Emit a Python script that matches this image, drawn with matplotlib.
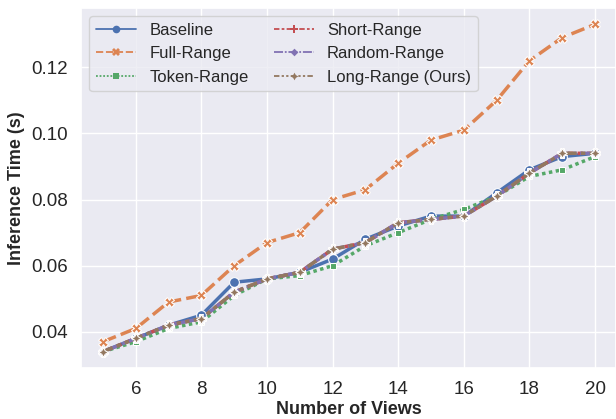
import matplotlib
matplotlib.use("Agg")
import matplotlib.pyplot as plt
import seaborn as sns
import pandas as pd

views = list(range(5, 21))
baseline = [0.034, 0.038, 0.042, 0.045, 0.055, 0.056, 0.058, 0.062, 0.068, 0.072, 0.075, 0.075, 0.082, 0.089, 0.093, 0.094]
full_range = [0.037, 0.041, 0.049, 0.051, 0.060, 0.067, 0.070, 0.080, 0.083, 0.091, 0.098, 0.101, 0.110, 0.122, 0.129, 0.133]
token_range = [0.034, 0.037, 0.041, 0.043, 0.051, 0.056, 0.057, 0.060, 0.066, 0.070, 0.074, 0.077, 0.081, 0.087, 0.089, 0.093]
short_range = [0.034, 0.038, 0.042, 0.044, 0.052, 0.056, 0.058, 0.065, 0.067, 0.073, 0.074, 0.075, 0.081, 0.088, 0.094, 0.094]
random_range = [0.034, 0.038, 0.042, 0.044, 0.052, 0.056, 0.058, 0.065, 0.067, 0.073, 0.074, 0.075, 0.081, 0.088, 0.094, 0.094]
long_range = [0.034, 0.038, 0.042, 0.044, 0.052, 0.056, 0.058, 0.065, 0.067, 0.073, 0.074, 0.075, 0.081, 0.088, 0.094, 0.094]

names = ["Baseline", "Full-Range", "Token-Range", "Short-Range", "Random-Range", "Long-Range (Ours)"]
series = [baseline, full_range, token_range, short_range, random_range, long_range]

rows = []
for name, vals in zip(names, series):
    for v, t in zip(views, vals):
        rows.append({"views": v, "time": t, "method": name})
df = pd.DataFrame(rows)

sns.set_theme(style="darkgrid")
plt.rcParams['font.family'] = ['Liberation Sans', 'DejaVu Sans']

fig = plt.figure(figsize=(6.16, 4.19), dpi=100)
ax = fig.add_axes([81 / 616, 51 / 419, 535 / 616, 360 / 419])

sns.lineplot(data=df, x="views", y="time", hue="method", style="method",
             hue_order=names, style_order=names, markers=True, dashes=True,
             linewidth=2.5, markersize=7, ax=ax)

ax.set_xlim(4.33, 20.64)
ax.set_xticks([6, 8, 10, 12, 14, 16, 18, 20])
ax.set_yticks([0.04, 0.06, 0.08, 0.10, 0.12])
ax.tick_params(labelsize=13.5)
ax.set_xlabel("Number of Views", fontsize=13, fontweight="bold", labelpad=2)
ax.set_ylabel("Inference Time (s)", fontsize=13, fontweight="bold")
leg = ax.legend(ncol=2, loc="upper left", fontsize=12, title=None, handlelength=2.4,
                columnspacing=1.5, borderaxespad=0.5)
# thinner handles in the legend, like the original
for ln in leg.get_lines():
    ln.set_linewidth(1.3)
    ln.set_markersize(5.5)
    ln.set_markeredgewidth(0)

fig.savefig("out.png", dpi=100)
